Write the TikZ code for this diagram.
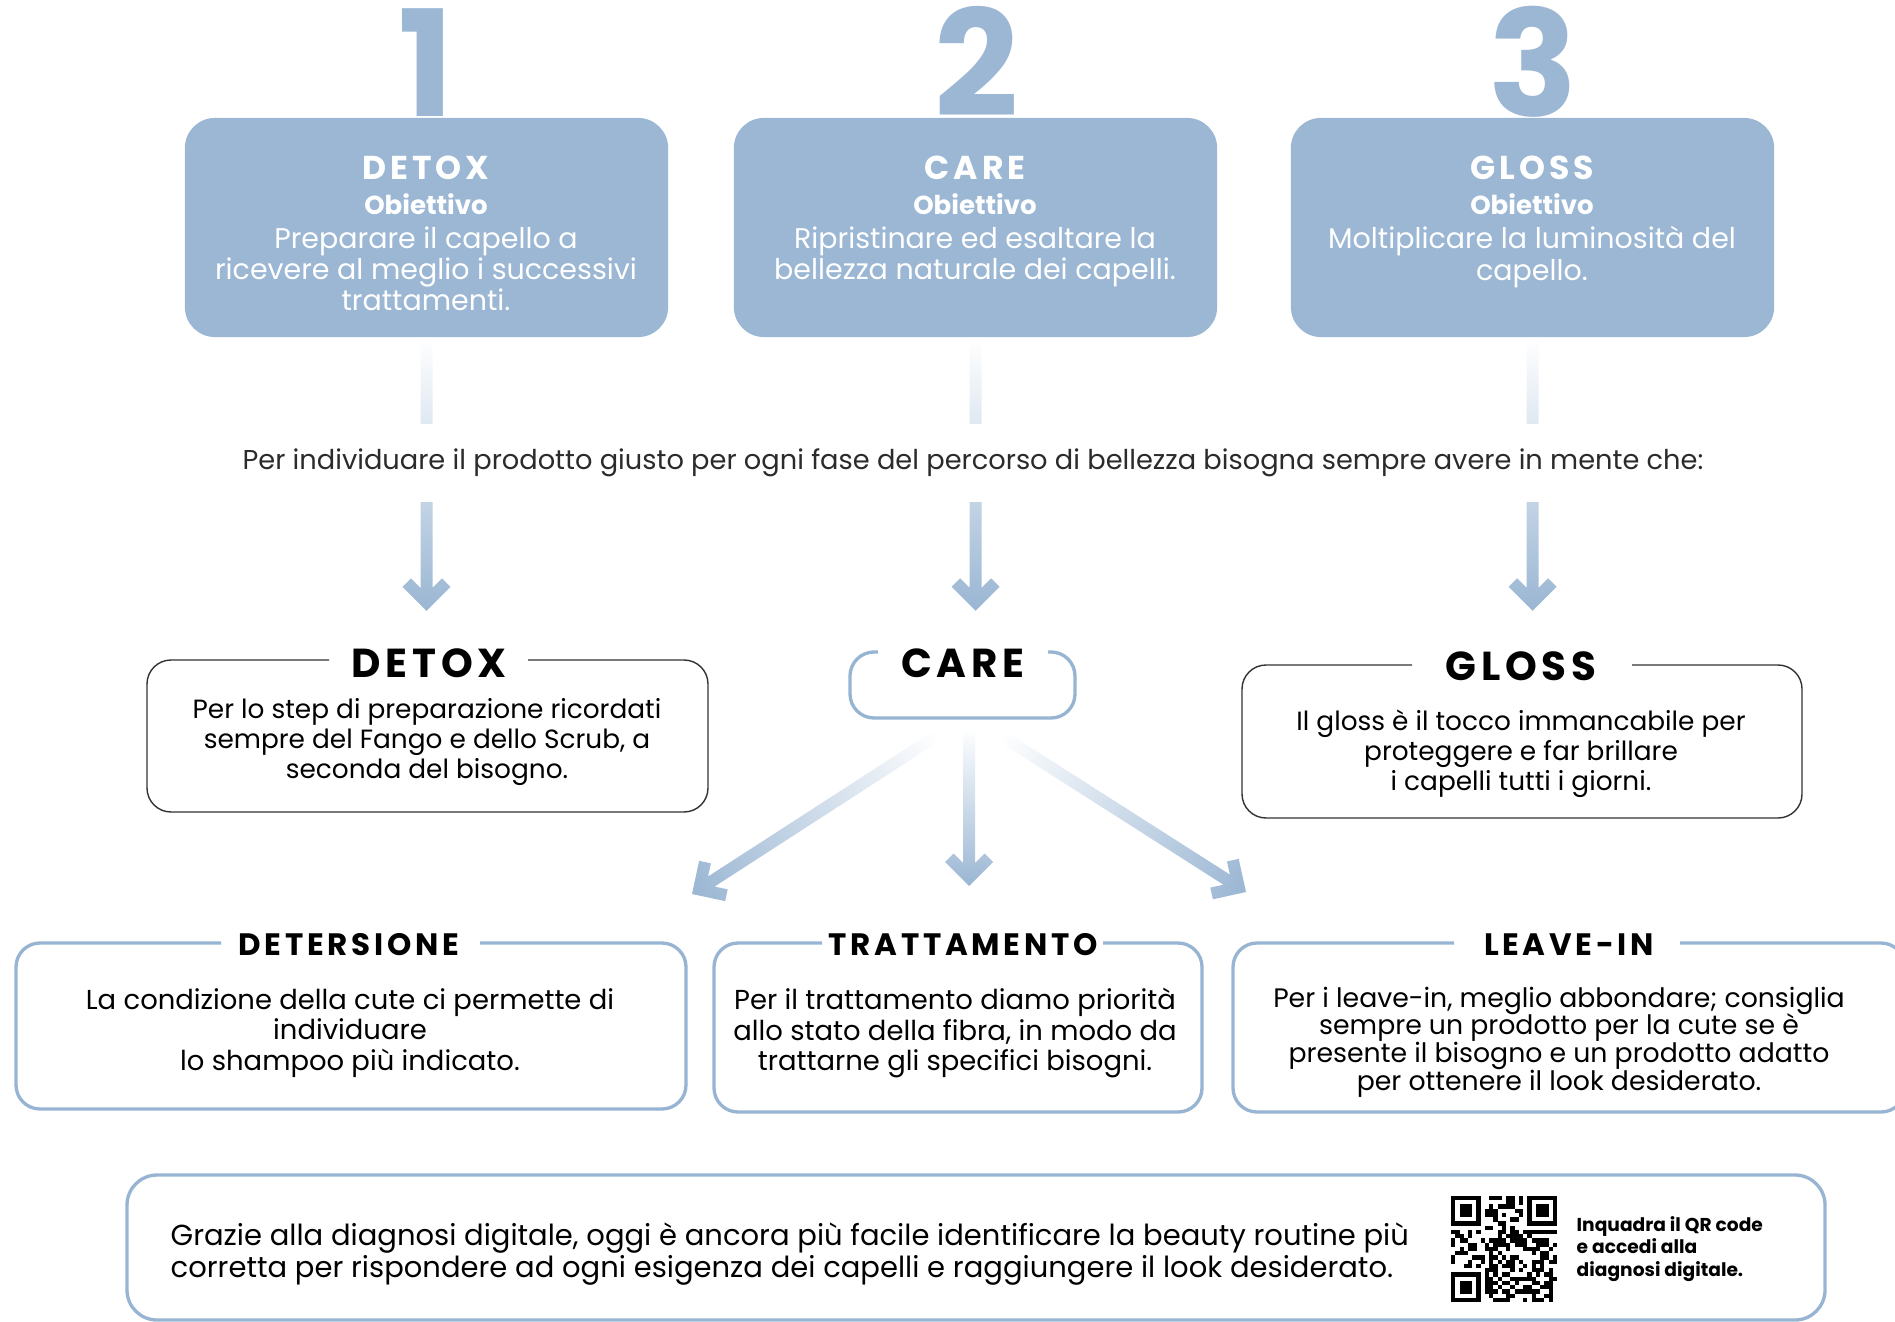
\documentclass[tikz,border=0pt]{standalone}
\usepackage{fontspec}
\setmainfont{Poppins}
\newfontfamily\spacedfont{Poppins}[LetterSpace=12]
\usetikzlibrary{calc}

% shaded arrow from #1 (faded end) to #2 (tip)
\newcommand{\fadearrow}[2]{%
  \path let \p1=(#1), \p2=(#2),
    \n1={atan2(\y1-\y2,\x1-\x2)}, \n2={veclen(\x1-\x2,\y1-\y2)} in
    \pgfextra{\pgfmathsetmacro\fadeangle{\n1}\pgfmathsetmacro\fadelength{\n2/0.28453}%
      \global\let\fadeangle\fadeangle\global\let\fadelength\fadelength};
  \begin{scope}[transform canvas={shift={(#2)}, rotate=\fadeangle}, x=0.01cm, y=0.01cm]
    \shade[left color=ArrowBlue, right color=white]
      (0,0) -- (24,24) -- (32.5,15.5) -- (23,6) -- (\fadelength,6)
      -- (\fadelength,-6) -- (23,-6) -- (32.5,-15.5) -- (24,-24) -- cycle;
  \end{scope}}

\begin{document}
\begin{tikzpicture}[x=0.01cm, y=-0.01cm,
  stepbox/.style={fill=BoxBlue, rounded corners=0.3cm, minimum width=4.83cm, minimum height=2.19cm},
  stepnum/.style={text=BoxBlue, font=\fontsize{42}{42}\selectfont\bfseries, anchor=base, inner sep=0pt},
  steptitle/.style={text=white, font=\spacedfont\bfseries\fontsize{9.4}{11}\selectfont, anchor=base, inner sep=0pt},
  stepgoal/.style={text=white, font=\bfseries\fontsize{7.4}{8.8}\selectfont, anchor=base, inner sep=0pt},
  stepbody/.style={text=white, align=center, font=\fontsize{8.1}{8.9}\selectfont, anchor=north, inner sep=0pt},
  midtext/.style={fill=white, text=TextGray, minimum height=0.78cm, inner xsep=0pt, font=\fontsize{7.75}{9}\selectfont},
  rowtitle/.style={font=\spacedfont\bfseries\fontsize{11.5}{14}\selectfont, anchor=base, inner sep=0pt},
  lowtitle/.style={font=\spacedfont\bfseries\fontsize{8.8}{11}\selectfont, anchor=base, inner sep=0pt},
  boxtext/.style={align=center, font=\fontsize{7.5}{8.5}\selectfont, inner sep=0pt},
  lowtext/.style={align=center, font=\fontsize{7.8}{8.6}\selectfont, inner sep=0pt},
  frameblack/.style={draw=FrameGray, line width=0.4pt, rounded corners=0.24cm},
  frameblue/.style={draw=LineBlue, line width=0.95pt, rounded corners=0.24cm},
  diagtext/.style={align=left, font=\fontsize{8.25}{9.3}\selectfont, inner sep=0pt},
  qrtext/.style={align=left, font=\bfseries\fontsize{5.3}{6.3}\selectfont, inner sep=0pt}]
\definecolor{BoxBlue}{HTML}{9BB7D4};
\definecolor{LineBlue}{HTML}{97B5D3};
\definecolor{ArrowBlue}{HTML}{9AB6D3};
\definecolor{TextGray}{HTML}{2B2B2B};
\definecolor{FrameGray}{HTML}{333333};

\useasboundingbox (0,0) rectangle (1895,1322);

% steps 1-3
\node[stepbox] (B1) at (426.5,227.5) {};
\node[stepbox] (B2) at (975.5,227.5) {};
\node[stepbox] (B3) at (1532.5,227.5) {};
\node[stepnum] (N1) at (426,117) {1};
\node[stepnum] (N2) at (977,117) {2};
\node[stepnum] (N3) at (1533,117) {3};

\node[steptitle] (S1) at (426,180) {DETOX};
\node[steptitle] (S2) at (975,180) {CARE};
\node[steptitle] (S3) at (1532,180) {GLOSS};
\foreach \g/\x in {G1/426,G2/975,G3/1532}
    \node[stepgoal] (\g) at (\x,215) {Obiettivo};
\node[stepbody] (P1) at (426,226) {Preparare il capello a\\ricevere al meglio i successivi\\trattamenti.};
\node[stepbody] (P2) at (975,226) {Ripristinare ed esaltare la\\bellezza naturale dei capelli.};
\node[stepbody] (P3) at (1532,226) {Moltiplicare la luminosità del\\capello.};

% arrows down
\coordinate (A1) at ($(B1.south)+(0,273)$);
\coordinate (A2) at ($(B2.south)+(0,273)$);
\coordinate (A3) at ($(B3.south)+(0,273)$);
\fadearrow{B1.south}{A1}
\fadearrow{B2.south}{A2}
\fadearrow{B3.south}{A3}

\node[midtext] (M) at (973,463) {Per individuare il prodotto giusto per ogni fase del percorso di bellezza bisogna sempre avere in mente che:};

% detox, care, gloss
\node[rowtitle] (D) at (429,677) {DETOX};
\node[rowtitle] (C) at (963,677) {CARE};
\node[rowtitle] (G) at (1521,680) {GLOSS};
\draw[frameblack] (528,660) -- (708,660) -- (708,812) -- (147,812) -- (147,660) -- (329,660);
\draw[frameblue] (1048,652) -- (1075,652) -- (1075,718) -- (850,718) -- (850,652) -- (878,652);
\draw[frameblack] (1632,665) -- (1802,665) -- (1802,818) -- (1242,818) -- (1242,665) -- (1412,665);
\node[boxtext] (DT) at (427,742) {Per lo step di preparazione ricordati\\sempre del Fango e dello Scrub, a\\seconda del bisogno.};
\node[boxtext] (GT) at (1521,754) {Il gloss è il tocco immancabile per\\proteggere e far brillare\\i capelli tutti i giorni.};

% care arrows
\coordinate (C1) at (938,735);
\coordinate (C2) at (969,728);
\coordinate (C3) at (1000,735);
\coordinate (L1) at (692,894);
\coordinate (L2) at (969,886);
\coordinate (L3) at (1246,892);
\foreach \s/\t in {C1/L1,C2/L2,C3/L3}
    {\fadearrow{\s}{\t}}

% detersione, trattamento, leave-in
\node[lowtitle] (E1) at (349,955) {DETERSIONE};
\node[lowtitle] (E2) at (963,955) {TRATTAMENTO};
\node[lowtitle] (E3) at (1569,955) {LEAVE-IN};
\draw[frameblue] (480,943) -- (686,943) -- (686,1109) -- (16,1109) -- (16,943) -- (221,943);
\draw[frameblue] (1103,943) -- (1202,943) -- (1202,1112) -- (714,1112) -- (714,943) -- (822,943);
\draw[frameblue] (1680,943) -- (1905,943) -- (1905,1112) -- (1233,1112) -- (1233,943) -- (1454,943);
\node[lowtext] (ET1) at (350,1033) {La condizione della cute ci permette di\\individuare\\lo shampoo più indicato.};
\node[lowtext] (ET2) at (955,1033) {Per il trattamento diamo priorità\\allo stato della fibra, in modo da\\trattarne gli specifici bisogni.};
\node[lowtext, font={\fontsize{7.6}{7.9}\selectfont\lineskiplimit=-20pt\relax}] (ET3) at (1559,1042) {Per i leave-in, meglio abbondare; consiglia\\sempre un prodotto per la cute se è\\presente il bisogno e un prodotto adatto\\per ottenere il look desiderato.};

% diagnosi digitale
\draw[frameblue, rounded corners=0.3cm] (127,1175) rectangle (1825,1320);
\node[diagtext, anchor=west] (Q) at (170,1254) {Grazie alla diagnosi digitale, oggi è ancora più facile identificare la beauty routine più\\corretta per rispondere ad ogni esigenza dei capelli e raggiungere il look desiderato.};
\node[qrtext, anchor=west] (QT) at (1576,1249) {Inquadra il QR code\\e accedi alla\\diagnosi digitale.};

% qr code
\begin{scope}[shift={(1451,1196)}]
\foreach \fx/\fy in {0/0,18/0,0/18} {
    \fill[black] (\fx*4.24,\fy*4.24) rectangle ++(29.68,29.68);
    \fill[white] (\fx*4.24+4.24,\fy*4.24+4.24) rectangle ++(21.2,21.2);
    \fill[black] (\fx*4.24+8.48,\fy*4.24+8.48) rectangle ++(12.72,12.72);
}
\pgfmathsetseed{12}
\foreach \i in {0,...,24}
    \foreach \j in {0,...,24} {
        \pgfmathtruncatemacro\qrskip{((\i<8)&&(\j<8)) || ((\i>16)&&(\j<8)) || ((\i<8)&&(\j>16))}
        \pgfmathtruncatemacro\qrbit{(rnd<0.5)*(1-\qrskip)}
        \ifnum\qrbit=1 \fill[black] (\i*4.24,\j*4.24) rectangle ++(4.3,4.3); \fi
    }
\end{scope}
\end{tikzpicture}
\end{document}
